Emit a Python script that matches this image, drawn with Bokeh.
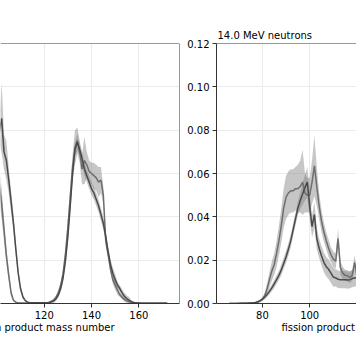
from bokeh.plotting import figure
from bokeh.layouts import row
from bokeh.models import Span, Title, FixedTicker, NumeralTickFormatter
from bokeh.embed import file_html
from bokeh.resources import INLINE

# ---------------- data ----------------
x_ticks = [60, 80, 100, 120, 140, 160]
y_ticks = [0.00, 0.02, 0.04, 0.06, 0.08, 0.10, 0.12]
x_label = "fission product mass number"
right_title = "14.0 MeV neutrons"
x_lim = (60.6, 177.2)
y_lim = (0.0, 0.12)

# left panel (lower-energy neutrons), visible part
left_mass = list(range(98, 173))
left_dark = [0.070, 0.074, 0.076, 0.079, 0.0855, 0.0700, 0.0660, 0.0570, 0.0470, 0.0370,
             0.0250, 0.0140, 0.0068, 0.0030, 0.0013, 0.0006, 0.0004, 0.0003, 0.0003, 0.0003,
             0.0003, 0.0003, 0.0003, 0.0004, 0.0005, 0.0008, 0.0012, 0.0022, 0.0040, 0.0070,
             0.0120, 0.0200, 0.0310, 0.0450, 0.0600, 0.0710, 0.0745, 0.0710, 0.0670, 0.0620,
             0.0590, 0.0560, 0.0530, 0.0510, 0.0480, 0.0450, 0.0410, 0.0370, 0.0310, 0.0240,
             0.0180, 0.0140, 0.0110, 0.0085, 0.0068, 0.0048, 0.0032, 0.0022, 0.0014, 0.0008,
             0.0005, 0.0003, 0.0002, 0.0001, 0.0001, 0.0001, 0.0001, 0.0001, 0.0001, 0.0001,
             0.0001, 0.0001, 0.0001, 0.0001, 0.0001]
left_dark_err = [0.005, 0.005, 0.005, 0.005, 0.016, 0.008, 0.009, 0.006, 0.005, 0.004,
                 0.003, 0.002, 0.0012, 0.0008, 0.0003, 0.0003, 0.0003, 0.0003, 0.0003, 0.0003,
                 0.0003, 0.0003, 0.0003, 0.0003, 0.0003, 0.0006, 0.0008, 0.0010, 0.0012, 0.0015,
                 0.0020, 0.0025, 0.0030, 0.0030, 0.0030, 0.0030, 0.0040, 0.0030, 0.0030, 0.0030,
                 0.0030, 0.0030, 0.0030, 0.0030, 0.0030, 0.0030, 0.0030, 0.0030, 0.0025, 0.0025,
                 0.0025, 0.0025, 0.0025, 0.0015, 0.0015, 0.0015, 0.0015, 0.0015, 0.0015, 0.0002,
                 0.0002, 0.0002, 0.0002, 0.0002, 0.0002, 0.0002, 0.0002, 0.0002, 0.0002, 0.0002,
                 0.0002, 0.0002, 0.0002, 0.0002, 0.0002]
left_light = [0.063, 0.062, 0.060, 0.055, 0.046, 0.034, 0.022, 0.013, 0.0048, 0.0015,
              0.0006, 0.0003, 0.0002, 0.0002, 0.0002, 0.0002, 0.0002, 0.0002, 0.0002, 0.0002,
              0.0002, 0.0002, 0.0002, 0.0003, 0.0005, 0.0009, 0.0015, 0.0028, 0.0050, 0.0085,
              0.0140, 0.0230, 0.0350, 0.0490, 0.0630, 0.0720, 0.0752, 0.0700, 0.0620, 0.0660,
              0.0640, 0.0610, 0.0600, 0.0590, 0.0580, 0.0560, 0.0570, 0.0500, 0.0290, 0.0230,
              0.0160, 0.0110, 0.0085, 0.0060, 0.0040, 0.0028, 0.0018, 0.0012, 0.0008, 0.0005,
              0.0003, 0.0002, 0.0001, 0.0001, 0.0001, 0.0001, 0.0001, 0.0001, 0.0001, 0.0001,
              0.0001, 0.0001, 0.0001, 0.0001, 0.0001]
left_light_err = [0.008, 0.008, 0.008, 0.008, 0.007, 0.005, 0.004, 0.0025, 0.0015, 0.0006,
                  0.0002, 0.0002, 0.0002, 0.0002, 0.0002, 0.0002, 0.0002, 0.0002, 0.0002, 0.0002,
                  0.0002, 0.0002, 0.0002, 0.0002, 0.0002, 0.0005, 0.0008, 0.0010, 0.0012, 0.0015,
                  0.0020, 0.0030, 0.0040, 0.0050, 0.0060, 0.0080, 0.0060, 0.0050, 0.0070, 0.0110,
                  0.0060, 0.0050, 0.0050, 0.0060, 0.0060, 0.0070, 0.0060, 0.0040, 0.0030, 0.0025,
                  0.0020, 0.0020, 0.0020, 0.0020, 0.0010, 0.0010, 0.0010, 0.0010, 0.0002, 0.0002,
                  0.0002, 0.0002, 0.0002, 0.0002, 0.0002, 0.0002, 0.0002, 0.0002, 0.0002, 0.0002,
                  0.0002, 0.0002, 0.0002, 0.0002, 0.0002]

# right panel (14.0 MeV neutrons), visible part
right_mass = list(range(66, 122))
right_light = [0.0000, 0.0000, 0.0000, 0.0000, 0.0001, 0.0001, 0.0001, 0.0001, 0.0002, 0.0002,
               0.0003, 0.0004, 0.0006, 0.0011, 0.0020, 0.0036, 0.0068, 0.0110, 0.0150, 0.0180,
               0.0230, 0.0290, 0.0360, 0.0440, 0.0490, 0.0510, 0.0520, 0.0520, 0.0530, 0.0530,
               0.0540, 0.0560, 0.0510, 0.0500, 0.0500, 0.0560, 0.0635, 0.0540, 0.0450, 0.0380,
               0.0330, 0.0290, 0.0255, 0.0225, 0.0205, 0.0195, 0.0300, 0.0165, 0.0140, 0.0130,
               0.0128, 0.0120, 0.0130, 0.0190, 0.0130, 0.0140]
right_light_err = [0.0001, 0.0001, 0.0001, 0.0001, 0.0001, 0.0001, 0.0001, 0.0001, 0.0001, 0.0001,
                   0.0001, 0.0002, 0.0003, 0.0005, 0.0008, 0.0015, 0.0025, 0.0035, 0.0045, 0.0050,
                   0.0060, 0.0070, 0.0080, 0.0090, 0.0100, 0.0100, 0.0100, 0.0100, 0.0100, 0.0110,
                   0.0120, 0.0150, 0.0090, 0.0080, 0.0080, 0.0100, 0.0140, 0.0090, 0.0060, 0.0050,
                   0.0045, 0.0040, 0.0040, 0.0035, 0.0035, 0.0035, 0.0045, 0.0030, 0.0028, 0.0026,
                   0.0026, 0.0025, 0.0026, 0.0030, 0.0026, 0.0026]
right_dark = [0.0000, 0.0000, 0.0000, 0.0000, 0.0000, 0.0001, 0.0001, 0.0001, 0.0001, 0.0002,
              0.0003, 0.0005, 0.0008, 0.0013, 0.0020, 0.0030, 0.0042, 0.0056, 0.0072, 0.0090,
              0.0110, 0.0130, 0.0155, 0.0185, 0.0215, 0.0250, 0.0290, 0.0340, 0.0390, 0.0440,
              0.0475, 0.0505, 0.0535, 0.0560, 0.0450, 0.0355, 0.0410, 0.0300, 0.0255, 0.0220,
              0.0190, 0.0170, 0.0158, 0.0140, 0.0122, 0.0118, 0.0112, 0.0110, 0.0110, 0.0110,
              0.0108, 0.0110, 0.0115, 0.0118, 0.0120, 0.0120]
right_dark_err = [0.0001, 0.0001, 0.0001, 0.0001, 0.0001, 0.0001, 0.0001, 0.0001, 0.0001, 0.0001,
                  0.0002, 0.0002, 0.0003, 0.0003, 0.0005, 0.0010, 0.0012, 0.0014, 0.0016, 0.0018,
                  0.0020, 0.0020, 0.0025, 0.0025, 0.0028, 0.0028, 0.0030, 0.0030, 0.0030, 0.0030,
                  0.0040, 0.0050, 0.0060, 0.0070, 0.0060, 0.0050, 0.0060, 0.0050, 0.0045, 0.0045,
                  0.0045, 0.0045, 0.0045, 0.0045, 0.0045, 0.0040, 0.0040, 0.0040, 0.0040, 0.0040,
                  0.0040, 0.0040, 0.0040, 0.0040, 0.0040, 0.0040]

# ---------------- style ----------------
FONT = "DejaVu Sans"
SPINE = "#333333"
GRID = "#ebebeb"
BAND = "#808080"
DARK = "#4a4a4a"
LIGHT = "#6e6e6e"
PX_PER_UNIT = 2.365
FRAME_TOP = 43
FRAME_H = 260
FIG_H = 364

left_frame_w = 179
right_frame_w = 140
left_x_range = (x_lim[1] - left_frame_w / PX_PER_UNIT, x_lim[1])
right_x_range = (x_lim[0], x_lim[0] + right_frame_w / PX_PER_UNIT)
# where the centred axis label of the full panel falls, in pixels from each frame edge
full_panel_w = (x_lim[1] - x_lim[0]) * PX_PER_UNIT
label_w = 146


def style_axis(ax):
    ax.axis_line_color = SPINE
    ax.axis_line_width = 1
    ax.major_tick_line_color = SPINE
    ax.major_tick_out = 4
    ax.major_tick_in = 0
    ax.minor_tick_out = 0
    ax.minor_tick_in = 0
    ax.major_label_standoff = 3
    ax.major_label_text_font = FONT
    ax.major_label_text_font_size = "10px"
    ax.major_label_text_color = "#000000"


def add_band(p, mass, vals, errs):
    lo = [v - e for v, e in zip(vals, errs)]
    hi = [v + e for v, e in zip(vals, errs)]
    p.varea(x=mass, y1=lo, y2=hi, fill_color=BAND, fill_alpha=0.45)


def make_panel(width, x_range, border_left, border_right, with_y_axis):
    p = figure(width=width, height=FIG_H, x_range=x_range, y_range=y_lim,
               output_backend="svg", toolbar_location=None,
               y_axis_location="left" if with_y_axis else None,
               min_border_left=border_left, min_border_right=border_right,
               min_border_top=FRAME_TOP, min_border_bottom=FIG_H - FRAME_TOP - FRAME_H)
    p.outline_line_color = None
    p.xaxis.ticker = FixedTicker(ticks=x_ticks)
    for ax in p.xaxis:
        style_axis(ax)
    if with_y_axis:
        p.yaxis.ticker = FixedTicker(ticks=y_ticks)
        p.yaxis.formatter = NumeralTickFormatter(format="0.00")
        for ax in p.yaxis:
            style_axis(ax)
    p.xgrid.ticker = FixedTicker(ticks=x_ticks)
    p.ygrid.ticker = FixedTicker(ticks=y_ticks)
    p.xgrid.grid_line_color = GRID
    p.ygrid.grid_line_color = GRID
    p.add_layout(Span(location=y_lim[1], dimension="width", line_color=SPINE, line_width=1))
    return p


def add_xlabel(p, align, offset):
    t = Title(text=x_label, align=align, offset=offset, vertical_align="top",
              text_font=FONT, text_font_size="10px", text_font_style="normal",
              text_color="#000000", standoff=0)
    p.add_layout(t, "below")


# left panel: only its right part is in view
pL = make_panel(left_frame_w + 2, left_x_range, 0, 2, False)
add_band(pL, left_mass, left_light, left_light_err)
add_band(pL, left_mass, left_dark, left_dark_err)
pL.line(left_mass, left_light, line_color=LIGHT, line_width=1.5)
pL.line(left_mass, left_dark, line_color=DARK, line_width=1.5)
pL.add_layout(Span(location=left_x_range[1], dimension="height", line_color=SPINE, line_width=1))
add_xlabel(pL, "right", (full_panel_w - label_w) / 2)

# right panel: only its left part is in view
pR = make_panel(35 + right_frame_w, right_x_range, 35, 0, True)
add_band(pR, right_mass, right_light, right_light_err)
add_band(pR, right_mass, right_dark, right_dark_err)
pR.line(right_mass, right_light, line_color=LIGHT, line_width=1.5)
pR.line(right_mass, right_dark, line_color=DARK, line_width=1.5)
pR.title.text = right_title
pR.title.align = "left"
pR.title.offset = 1
pR.title.standoff = 6
pR.title.text_font = FONT
pR.title.text_font_size = "10px"
pR.title.text_font_style = "normal"
pR.title.text_color = "#000000"
add_xlabel(pR, "left", (full_panel_w - label_w) / 2)

layout = row(pL, pR)

html = file_html(layout, INLINE)
open("out.html", "w").write(html)
